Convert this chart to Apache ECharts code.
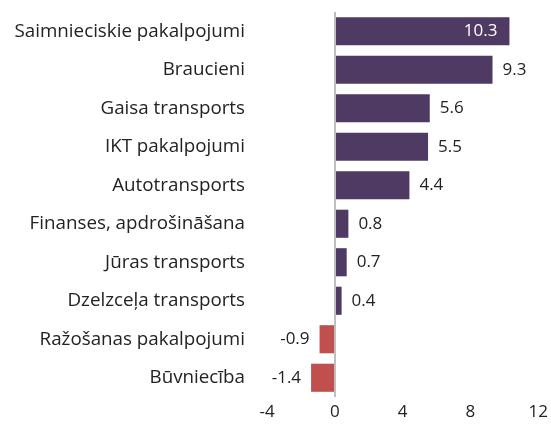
<!DOCTYPE html>
<html>
<head>
<meta charset="utf-8">
<script src="https://cdn.jsdelivr.net/npm/echarts@6/dist/echarts.min.js"></script>
<style>
  html, body { margin: 0; padding: 0; background: #fff; }
  #chart { width: 551px; height: 435px; }
</style>
</head>
<body>
<div id="chart"></div>
<script>
  // kategorijas (no augšas uz leju)
  const categories = [
    "Saimnieciskie pakalpojumi",
    "Braucieni",
    "Gaisa transports",
    "IKT pakalpojumi",
    "Autotransports",
    "Finanses, apdrošināšana",
    "Jūras transports",
    "Dzelzceļa transports",
    "Ražošanas pakalpojumi",
    "Būvniecība"
  ];
  const values = [10.3, 9.3, 5.6, 5.5, 4.4, 0.8, 0.7, 0.4, -0.9, -1.4];
  const xTicks = [-4, 0, 4, 8, 12];

  const posColor = "#4e3a62";
  const negColor = "#c0504d";
  const maxVal = Math.max(...values);

  const chart = echarts.init(document.getElementById("chart"));

  const seriesData = values.map(function (v) {
    const inside = v === maxVal; // garākajai joslai skaitlis iekšā
    return {
      value: v,
      itemStyle: { color: v >= 0 ? posColor : negColor },
      label: {
        position: inside ? "insideRight" : (v >= 0 ? "right" : "left"),
        color: inside ? "#fff" : "#222",
        distance: inside ? 12 : 10
      }
    };
  });

  const option = {
    backgroundColor: "#fff",
    animation: false,
    grid: { left: 267, right: 10, top: 12, bottom: 38 },
    xAxis: {
      type: "value",
      min: xTicks[0],
      max: xTicks[xTicks.length - 1],
      interval: 4,
      axisLine: { show: false },
      axisTick: { show: false },
      splitLine: { show: false },
      axisLabel: {
        color: "#222",
        fontSize: 17,
        fontFamily: "Open Sans",
        margin: 7
      }
    },
    yAxis: {
      type: "category",
      data: categories,
      inverse: true,
      axisLine: { show: false },
      axisTick: { show: false },
      axisLabel: {
        color: "#222",
        fontSize: 18.8,
        fontFamily: "Open Sans",
        margin: 22
      }
    },
    series: [
      {
        type: "bar",
        data: seriesData,
        barCategoryGap: "27%",
        label: {
          show: true,
          fontSize: 17,
          fontFamily: "Open Sans",
          formatter: function (p) { return p.value.toFixed(1); }
        },
        markLine: {
          silent: true,
          symbol: "none",
          label: { show: false },
          lineStyle: { color: "#bfbfbf", width: 2, type: "solid" },
          data: [{ xAxis: 0 }]
        }
      }
    ]
  };

  chart.setOption(option);
</script>
</body>
</html>
